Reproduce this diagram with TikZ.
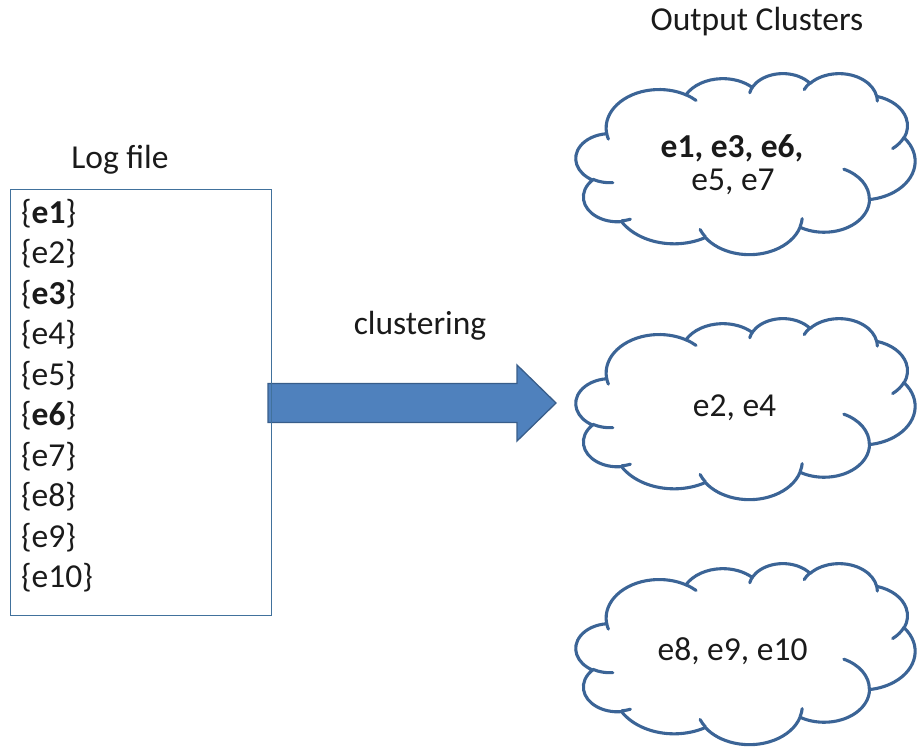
\documentclass[tikz,border=0pt]{standalone}
\usepackage{fontspec}
\setmainfont{Carlito}
\definecolor{cloudblue}{HTML}{3B6496}
\definecolor{boxblue}{HTML}{41719C}
\definecolor{arrowfill}{HTML}{4F81BD}
\definecolor{arrowline}{HTML}{385D8A}
\definecolor{textdark}{HTML}{1A1A1A}
% visual angle -> parametric angle of an ellipse
\newcommand\pangle[3]{%
  \pgfmathparse{atan2((#1)*sin(#3),(#2)*cos(#3))-(#3)}%
  \pgfmathparse{mod(\pgfmathresult+540,360)-180+(#3)}%
}
\newcommand\carc[4]{%
  \pgfextra{\pangle{#1}{#2}{#3}\global\let\cta\pgfmathresult
    \pgfmathparse{#3+#4}\let\cte\pgfmathresult
    \pangle{#1}{#2}{\cte}\global\let\ctb\pgfmathresult}%
  arc[start angle=\cta, end angle=\ctb, x radius=#1, y radius=#2]}
\newcommand\cloudshape{%
  \draw[cloudline] (39.00,143.70)
    \carc{67.53}{91.90}{-190.4875}{123.7805}
    \carc{53.33}{72.67}{-144.1024}{89.9452}
    \carc{43.65}{59.45}{-145.8079}{99.7230}
    \carc{48.57}{65.95}{-130.9861}{117.2417}
    \carc{53.33}{72.73}{-78.7089}{109.0269}
    \carc{67.75}{92.20}{-46.2673}{130.2690}
    \carc{57.85}{78.67}{0.6250}{114.0333}
    \carc{67.52}{92.15}{22.4516}{115.1726}
    \carc{77.20}{105.43}{66.2426}{75.7110}
    \carc{43.60}{59.18}{-274.9421}{146.7356}
    \carc{43.45}{59.45}{-246.8285}{152.5189}
    -- cycle;
  \draw[cloudline]
    (46.93,261.77) \carc{43.45}{59.45}{86.7420}{26.4295}
    (69.28,348.99) \carc{43.60}{59.18}{73.6105}{11.4475}
    (164.78,390.90) \carc{67.52}{92.15}{137.6242}{14.0811}
    (288.27,347.51) \carc{67.52}{92.15}{6.4533}{15.9984}
    (341.29,229.54) \carc{57.85}{78.67}{-70.2924}{70.9174}
    (417.98,153.54) \carc{53.33}{72.73}{30.3180}{27.7515}
    (383.24,54.26) \carc{48.57}{65.95}{-13.7443}{14.8589}
    (290.78,39.52) \carc{48.57}{65.95}{-149.1815}{18.1954}
    (221.41,47.20) \carc{43.65}{59.45}{-163.4943}{17.6864}
    (140.00,51.92) \carc{67.53}{91.90}{-66.7070}{12.3194}
    (41.27,157.89) \carc{67.53}{91.90}{157.6544}{11.8539};
}
\begin{document}
\begin{tikzpicture}[x=1pt,y=-1pt,
  txt/.style={inner sep=0pt, font=\fontsize{33.5}{40}\selectfont, text=textdark},
  cloudline/.style={draw=cloudblue, line width=3.1pt, line cap=round, line join=round},
  logline/.style={txt, anchor=base west}]
\useasboundingbox (0,0) rectangle (917,748);
% titles
\node[txt, anchor=base] (outtitle) at (757,30) {Output Clusters};
\node[txt, anchor=base] (logtitle) at (120,168) {Log file};
\node[txt, anchor=base] (clustlabel) at (420,334) {clustering};
% block arrow
\draw[fill=arrowfill, draw=arrowline, line width=1.3pt, line join=miter]
  (268,383.5) -- (517,383.5) -- (517,365) -- (556,403) -- (517,441)
  -- (517,422.5) -- (268,422.5) -- cycle;
% log box
\node[draw=boxblue, line width=1.3pt, minimum width=261, minimum height=426,
  anchor=north west, inner sep=0pt] (logbox) at (9.5,189) {};
\node[logline] (l1) at (21,223.3) {\{\textbf{e1}\}};
\node[logline] (l2) at (21,263.8) {\{e2\}};
\node[logline] (l3) at (21,304.3) {\{\textbf{e3}\}};
\node[logline] (l4) at (21,344.8) {\{e4\}};
\node[logline] (l5) at (21,385.3) {\{e5\}};
\node[logline] (l6) at (21,425.8) {\{\textbf{e6}\}};
\node[logline] (l7) at (21,466.3) {\{e7\}};
\node[logline] (l8) at (21,506.8) {\{e8\}};
\node[logline] (l9) at (21,547.3) {\{e9\}};
\node[logline] (l10) at (21,587.8) {\{e10\}};
% clouds
\begin{scope}[shift={(576,73)}, xscale=339/432, yscale=181/432]
  \cloudshape
\end{scope}
\begin{scope}[shift={(576,318)}, xscale=339/432, yscale=181/432]
  \cloudshape
\end{scope}
\begin{scope}[shift={(576,563)}, xscale=339/432, yscale=181/432]
  \cloudshape
\end{scope}
\node[txt, anchor=base] (c1a) at (732,157.3) {\textbf{e1, e3, e6,}};
\node[txt, anchor=base] (c1b) at (733,190.7) {e5, e7};
\node[txt, anchor=base] (c2) at (734.5,416) {e2, e4};
\node[txt, anchor=base] (c3) at (732.5,660) {e8, e9, e10};
\end{tikzpicture}
\end{document}
